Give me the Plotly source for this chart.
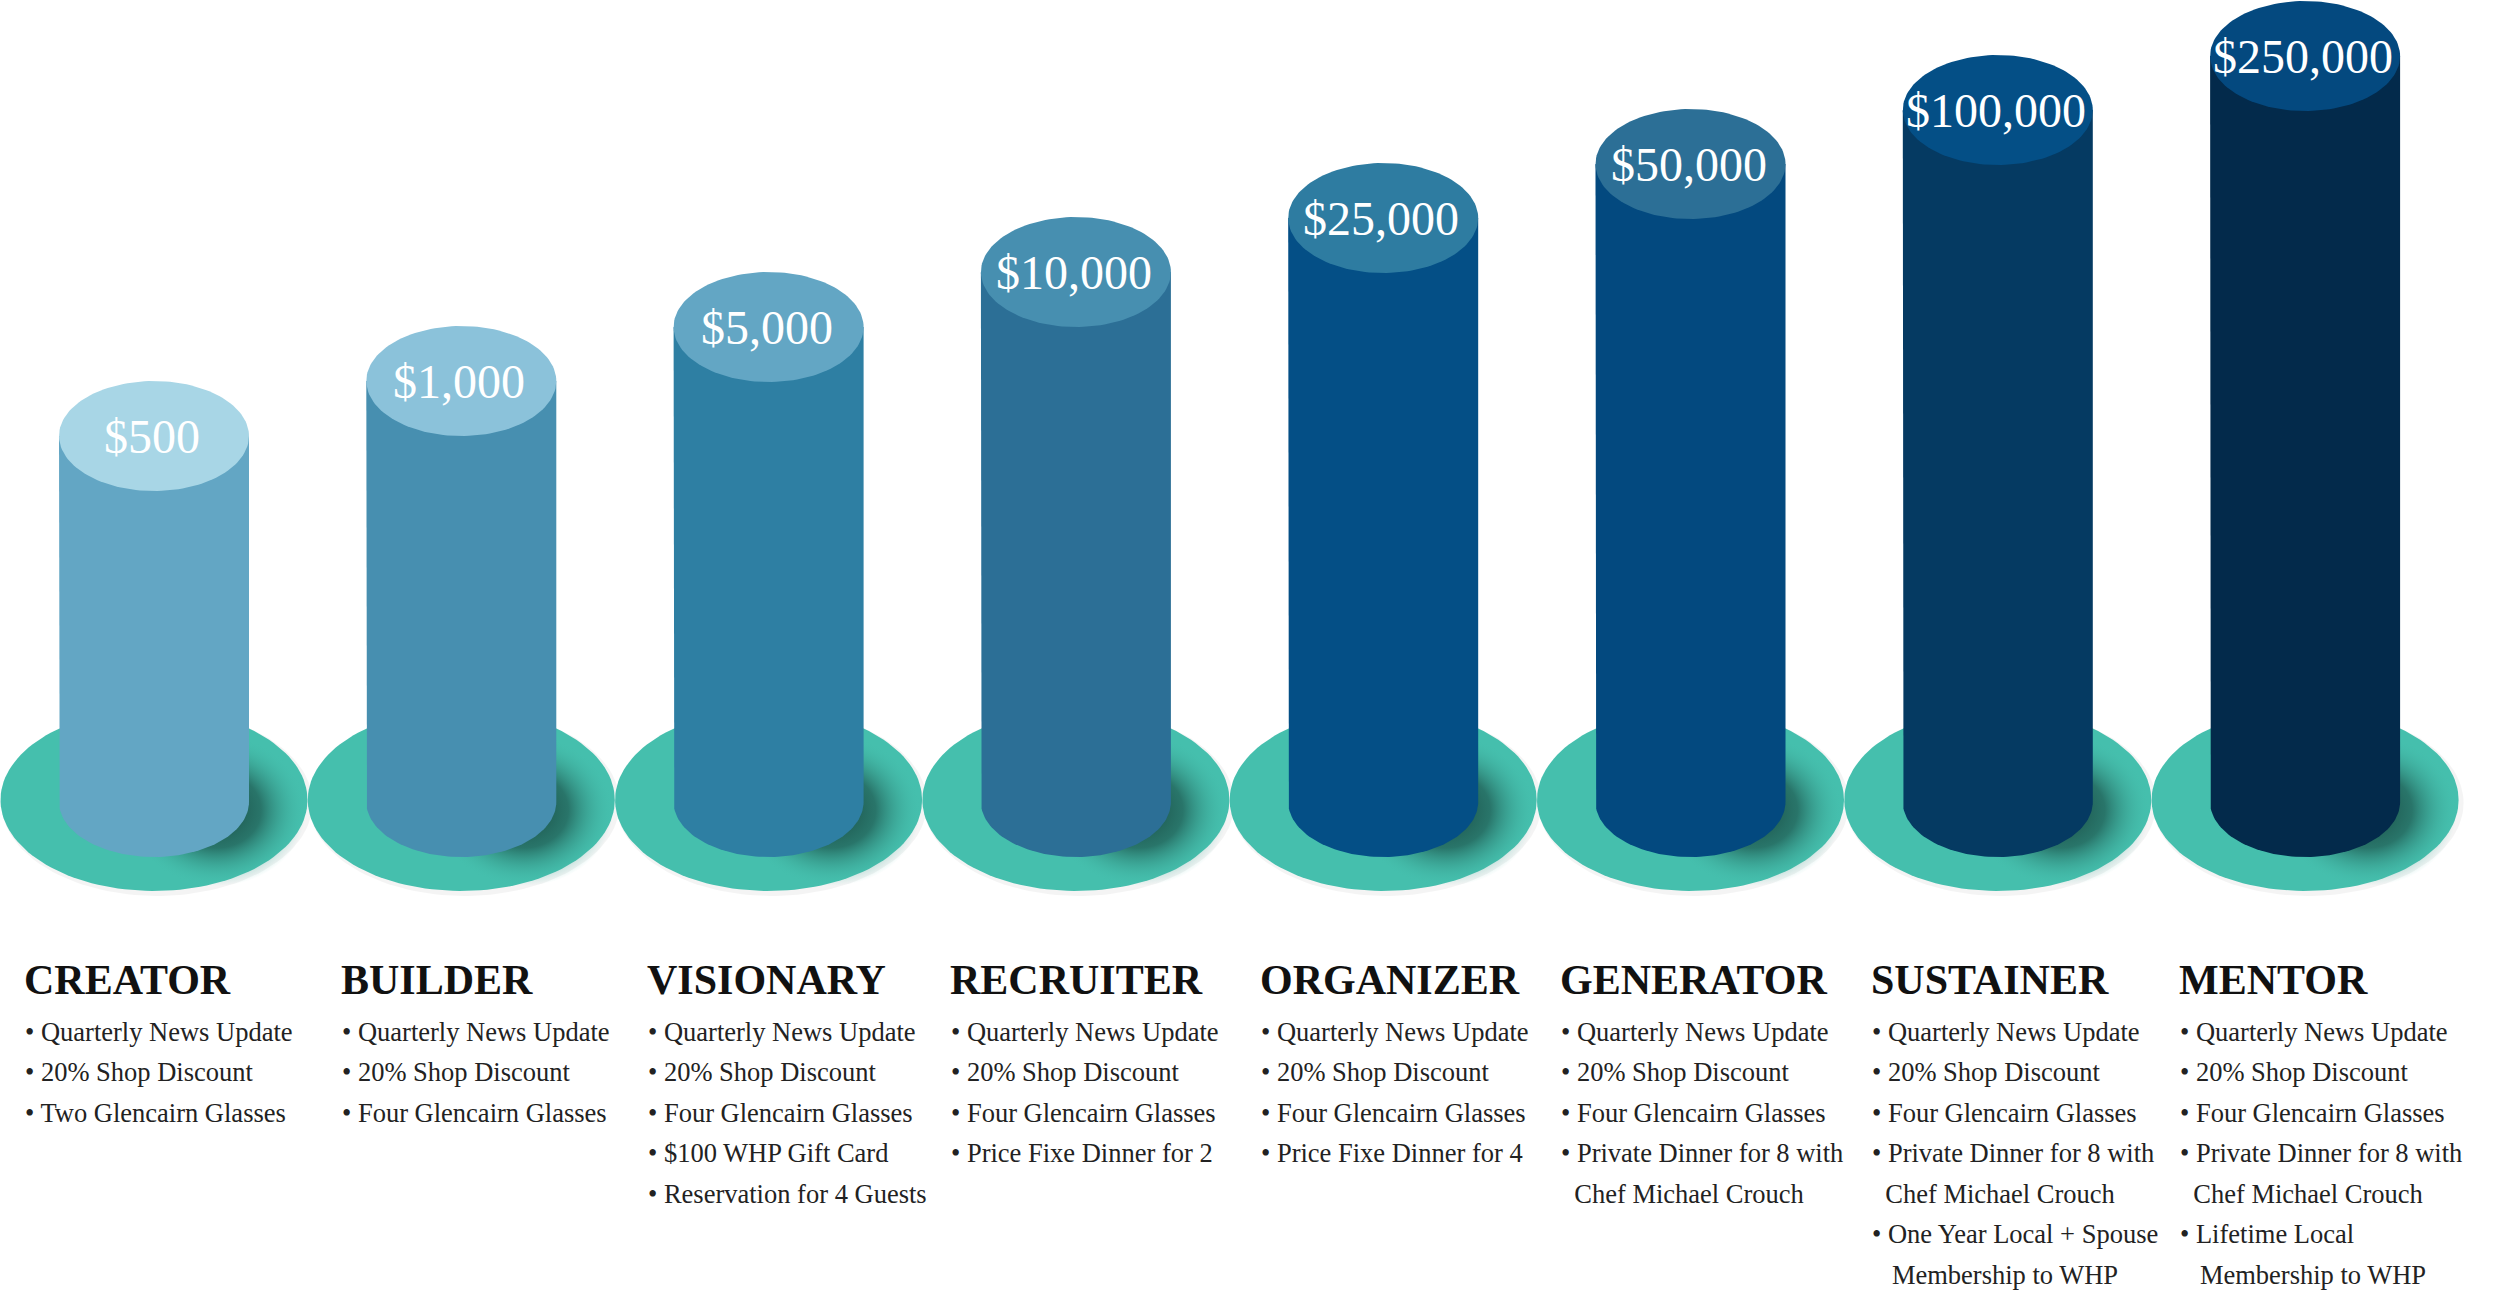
import numpy as np
import plotly.graph_objects as go

# ---- data ----
tiers = ["CREATOR", "BUILDER", "VISIONARY", "RECRUITER",
         "ORGANIZER", "GENERATOR", "SUSTAINER", "MENTOR"]
amounts = [500, 1000, 5000, 10000, 25000, 50000, 100000, 250000]
# drawn column height above the base (picture units)
column_heights = [366, 421, 475, 530, 584, 638, 692, 746]

benefits = [
    ["Quarterly News Update", "20% Shop Discount", "Two Glencairn Glasses"],
    ["Quarterly News Update", "20% Shop Discount", "Four Glencairn Glasses"],
    ["Quarterly News Update", "20% Shop Discount", "Four Glencairn Glasses",
     "$100 WHP Gift Card", "Reservation for 4 Guests"],
    ["Quarterly News Update", "20% Shop Discount", "Four Glencairn Glasses",
     "Price Fixe Dinner for 2"],
    ["Quarterly News Update", "20% Shop Discount", "Four Glencairn Glasses",
     "Price Fixe Dinner for 4"],
    ["Quarterly News Update", "20% Shop Discount", "Four Glencairn Glasses",
     "Private Dinner for 8 with|\u00a0\u00a0Chef Michael Crouch"],
    ["Quarterly News Update", "20% Shop Discount", "Four Glencairn Glasses",
     "Private Dinner for 8 with|\u00a0\u00a0Chef Michael Crouch",
     "One Year Local + Spouse|\u00a0\u00a0\u00a0Membership to WHP"],
    ["Quarterly News Update", "20% Shop Discount", "Four Glencairn Glasses",
     "Private Dinner for 8 with|\u00a0\u00a0Chef Michael Crouch",
     "Lifetime Local|\u00a0\u00a0\u00a0Membership to WHP"],
]

# ---- styling ----
body_colors = ["#63a6c4", "#478fb0", "#2e7fa3", "#2c6f96",
               "#044f86", "#03497f", "#053a62", "#032a4b"]
top_colors = ["#a8d6e6", "#8bc2da", "#63a6c4", "#478fb0",
              "#2e7ca1", "#2c6f96", "#044f86", "#04497f"]
TEAL = "#45bfad"
FONT = "Liberation Serif"

W, H = 2500, 1304
X0, STEP = 154, 307.3          # column centres
RX, RY = 95, 55                # cylinder ellipse radii
BASE_Y = 802                   # cylinder bottom ellipse centre
DISC_Y, DISC_RX, DISC_RY = 800, 153.5, 91
TEXT_LEFT = [23, 340, 645.5, 948.5, 1259, 1559, 1869.5, 2177.5]
TITLE_BASE = 994
LINE_BASE0, LINE_STEP = 1041, 40.5


def ellipse(cx, cy, rx, ry, n=140):
    t = np.linspace(0, 2 * np.pi, n)
    return cx + rx * np.cos(t), cy + ry * np.sin(t)


def patch(x, y, color):
    return go.Scatter(x=x, y=y, mode="lines", fill="toself", fillcolor=color,
                      line=dict(width=0, color="rgba(0,0,0,0)"),
                      hoverinfo="skip", showlegend=False)


fig = go.Figure()
annotations = []

for i, name in enumerate(tiers):
    cx = X0 + STEP * i
    top_y = BASE_Y - column_heights[i]

    # faint halo + teal base disc
    hx, hy = ellipse(cx + 3, DISC_Y + 3, DISC_RX + 2, DISC_RY + 2)
    fig.add_trace(patch(hx, hy, "rgba(0,0,0,0.045)"))
    dx, dy = ellipse(cx, DISC_Y, DISC_RX, DISC_RY)
    fig.add_trace(patch(dx, dy, TEAL))

    # soft shadow of the column on the disc
    sx, sy = ellipse(cx + 62, BASE_Y + 8, 90, 76)
    fig.add_trace(go.Scatter(
        x=sx, y=sy, mode="lines", fill="toself",
        fillgradient=dict(type="radial", colorscale=[
            [0, "rgba(24,74,66,1)"], [0.5, "rgba(36,104,94,0.85)"],
            [1, "rgba(69,191,173,0)"]]),
        line=dict(width=0, color="rgba(0,0,0,0)"),
        hoverinfo="skip", showlegend=False))

    # cylinder body: straight sides + bottom half ellipse
    t = np.linspace(np.pi, 0, 80)
    bx = np.concatenate([[cx - RX], cx + RX * np.cos(t), [cx + RX, cx - RX]])
    by = np.concatenate([[top_y], BASE_Y + RY * np.sin(t), [top_y, top_y]])
    fig.add_trace(patch(bx, by, body_colors[i]))

    # cylinder top
    tx, ty = ellipse(cx, top_y, RX, RY)
    fig.add_trace(patch(tx, ty, top_colors[i]))

    annotations.append(dict(
        x=cx - 2, y=top_y, text=f"${amounts[i]:,}", showarrow=False,
        xanchor="center", yanchor="middle", borderpad=0,
        font=dict(family=FONT, size=48, color="white")))

    # tier title and benefit list
    left = TEXT_LEFT[i]
    annotations.append(dict(
        x=left, y=TITLE_BASE - 0.34 * 42, text=f"<b>{name}</b>",
        showarrow=False, xanchor="left", yanchor="middle", borderpad=0,
        font=dict(family=FONT, size=42, color="#111111")))

    row = 0
    for item in benefits[i]:
        for k, part in enumerate(item.split("|")):
            txt = "\u2022 " + part if k == 0 else part
            annotations.append(dict(
                x=left + 1, y=LINE_BASE0 + LINE_STEP * row - 0.34 * 27,
                text=txt, showarrow=False, xanchor="left", yanchor="middle",
                borderpad=0, font=dict(family=FONT, size=26.5, color="#222222")))
            row += 1

fig.update_layout(
    width=W, height=H,
    margin=dict(l=0, r=0, t=0, b=0),
    paper_bgcolor="white", plot_bgcolor="white",
    showlegend=False,
    xaxis=dict(range=[0, W], visible=False, fixedrange=True),
    yaxis=dict(range=[H, 0], visible=False, fixedrange=True),
    annotations=annotations,
)

fig.write_html("out.html", config={"displayModeBar": False},
               post_script="document.body.style.margin='0';")
